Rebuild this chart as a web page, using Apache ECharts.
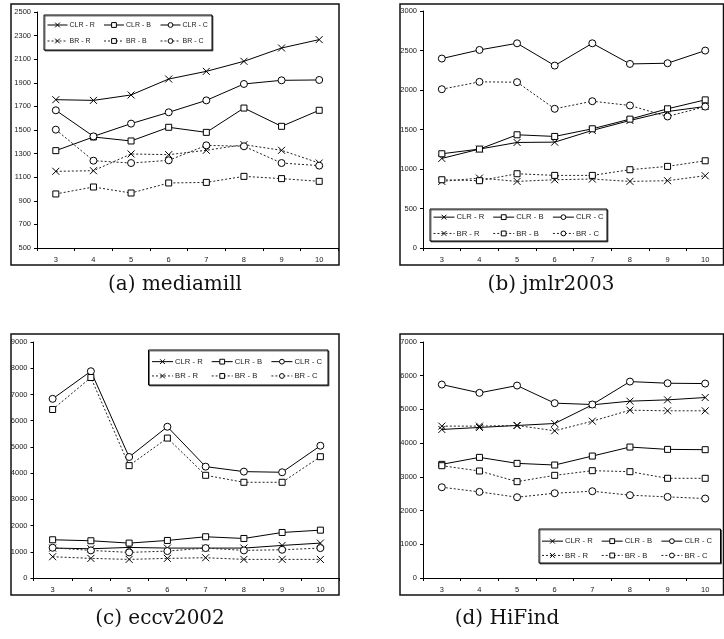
<!DOCTYPE html>
<html>
<head>
<meta charset="utf-8">
<script src="https://cdn.jsdelivr.net/npm/echarts@6/dist/echarts.min.js"></script>
<style>html,body{margin:0;padding:0;background:#fff;}#c{width:724px;height:639px;}</style>
</head>
<body>
<div id="c"></div>
<script>
// ---------- DATA ----------
const categories = ['3', '4', '5', '6', '7', '8', '9', '10'];
const seriesNames = ['CLR - R', 'CLR - B', 'CLR - C', 'BR - R', 'BR - B', 'BR - C'];
const captions = ['(a) mediamill', '(b) jmlr2003', '(c) eccv2002', '(d) HiFind'];

const yMin = [500, 0, 0, 0];
const yMax = [2500, 3000, 9000, 7000];
const yInterval = [200, 500, 1000, 1000];

// (a) mediamill
const mediamill_CLR_R = [1757, 1751, 1797, 1932, 1997, 2082, 2195, 2266];
const mediamill_CLR_B = [1325, 1441, 1407, 1523, 1480, 1686, 1531, 1667];
const mediamill_CLR_C = [1667, 1446, 1554, 1650, 1751, 1890, 1921, 1924];
const mediamill_BR_R = [1150, 1155, 1297, 1291, 1328, 1376, 1328, 1220];
const mediamill_BR_B = [958, 1017, 966, 1051, 1056, 1107, 1088, 1065];
const mediamill_BR_C = [1503, 1240, 1220, 1243, 1370, 1362, 1220, 1198];

// (b) jmlr2003
const jmlr_CLR_R = [1134, 1252, 1336, 1340, 1488, 1614, 1728, 1791];
const jmlr_CLR_B = [1193, 1252, 1433, 1412, 1509, 1631, 1762, 1875];
const jmlr_CLR_C = [2398, 2507, 2591, 2309, 2591, 2330, 2339, 2499];
const jmlr_BR_R = [843, 885, 843, 864, 873, 843, 852, 915];
const jmlr_BR_B = [864, 852, 940, 919, 919, 991, 1033, 1104];
const jmlr_BR_C = [2010, 2103, 2099, 1762, 1858, 1804, 1665, 1790];

// (c) eccv2002
const eccv_CLR_R = [1141, 1115, 1166, 1141, 1141, 1141, 1242, 1331];
const eccv_CLR_B = [1458, 1420, 1331, 1432, 1572, 1508, 1736, 1825];
const eccv_CLR_C = [6833, 7885, 4615, 5768, 4247, 4057, 4032, 5044];
const eccv_BR_R = [811, 748, 710, 748, 773, 710, 710, 710];
const eccv_BR_B = [6427, 7645, 4285, 5336, 3917, 3650, 3650, 4626];
const eccv_BR_C = [1153, 1052, 976, 1027, 1141, 1052, 1077, 1141];

// (d) HiFind
const hifind_CLR_R = [4406, 4465, 4524, 4583, 5136, 5245, 5284, 5353];
const hifind_CLR_B = [3371, 3578, 3400, 3351, 3617, 3884, 3815, 3806];
const hifind_CLR_C = [5738, 5491, 5708, 5186, 5146, 5826, 5777, 5767];
const hifind_BR_R = [4505, 4505, 4524, 4366, 4652, 4978, 4959, 4959];
const hifind_BR_B = [3331, 3174, 2858, 3045, 3183, 3154, 2957, 2957];
const hifind_BR_C = [2692, 2554, 2396, 2515, 2574, 2456, 2406, 2357];

const panelData = [
  [mediamill_CLR_R, mediamill_CLR_B, mediamill_CLR_C, mediamill_BR_R, mediamill_BR_B, mediamill_BR_C],
  [jmlr_CLR_R, jmlr_CLR_B, jmlr_CLR_C, jmlr_BR_R, jmlr_BR_B, jmlr_BR_C],
  [eccv_CLR_R, eccv_CLR_B, eccv_CLR_C, eccv_BR_R, eccv_BR_B, eccv_BR_C],
  [hifind_CLR_R, hifind_CLR_B, hifind_CLR_C, hifind_BR_R, hifind_BR_B, hifind_BR_C]
];

// ---------- LAYOUT / STYLE ----------
const grids = [
  { left: 37, top: 12, width: 301, height: 236 },
  { left: 423, top: 11, width: 305, height: 237 },
  { left: 33.5, top: 342, width: 306, height: 236 },
  { left: 423, top: 342, width: 305, height: 236 }
];
const boxes = [
  { x: 11, y: 4, w: 328, h: 261 },
  { x: 400, y: 4, w: 323.5, h: 261 },
  { x: 11, y: 334, w: 328, h: 261 },
  { x: 400, y: 334, w: 323.5, h: 261 }
];
const captionPos = [[175, 285], [551, 285], [160, 619], [507, 619]];
// legend box frames and column layout per panel
const legendBoxes = [
  { x: 44, y: 15, w: 168, h: 35, colLeft: 47, pitch: 56.5, row1: 25, rowPitch: 16, itemWidth: 20, fontSize: 7 },
  { x: 430, y: 209, w: 177, h: 32, colLeft: 433, pitch: 59.7, row1: 217, rowPitch: 16, itemWidth: 21, fontSize: 7.7 },
  { x: 148.5, y: 350, w: 179.5, h: 35, colLeft: 151.5, pitch: 59.7, row1: 361.5, rowPitch: 14, itemWidth: 21, fontSize: 7.7 },
  { x: 539, y: 529, w: 181.5, h: 34, colLeft: 541.5, pitch: 59.7, row1: 541, rowPitch: 14, itemWidth: 21, fontSize: 7.7 }
];

const X_SYMBOL = 'path://M0,0L10,10M10,0L0,10';
const symbols = [X_SYMBOL, 'rect', 'circle', X_SYMBOL, 'rect', 'circle'];
const symbolSizes = [7, 6, 7, 7, 6, 7];
const dashed = [false, false, false, true, true, true];
const FONT = 'Liberation Sans, Arial, sans-serif';

const option = {
  animation: false,
  backgroundColor: '#fff',
  grid: grids.map(g => Object.assign({ containLabel: false }, g)),
  xAxis: grids.map((g, i) => ({
    type: 'category',
    gridIndex: i,
    data: categories,
    boundaryGap: true,
    axisLine: { lineStyle: { color: '#000', width: 1 } },
    axisTick: { show: true, length: 3, lineStyle: { color: '#000' } },
    axisLabel: { fontSize: 7.5, color: '#222', fontFamily: FONT, margin: 8 },
    splitLine: { show: false }
  })),
  yAxis: grids.map((g, i) => ({
    type: 'value',
    gridIndex: i,
    min: yMin[i],
    max: yMax[i],
    interval: yInterval[i],
    axisLine: { show: true, lineStyle: { color: '#000', width: 1 } },
    axisTick: { show: true, length: 3, lineStyle: { color: '#000' } },
    axisLabel: { fontSize: 7.5, color: '#222', fontFamily: FONT, margin: 6, formatter: v => String(v) },
    splitLine: { show: false }
  })),
  legend: [],
  series: [],
  graphic: []
};

legendBoxes.forEach((lb) => {
  const itemH = 6;
  const textH = lb.fontSize;
  for (let k = 0; k < 3; k++) {
    option.legend.push({
      data: [seriesNames[k], seriesNames[k + 3]],
      orient: 'vertical',
      left: lb.colLeft + k * lb.pitch,
      top: lb.row1 - textH / 2,
      padding: 0,
      itemWidth: lb.itemWidth,
      itemHeight: itemH,
      itemGap: lb.rowPitch - textH,
      selectedMode: false,
      z: 8,
      lineStyle: { width: 1 },
      itemStyle: { borderWidth: 1 },
      textStyle: { fontSize: lb.fontSize, color: '#222', fontFamily: FONT, padding: [0, 0, 0, -3] }
    });
  }
  option.graphic.push({
    type: 'rect',
    shape: { x: lb.x, y: lb.y, width: lb.w, height: lb.h },
    style: { fill: '#fff', stroke: '#000', lineWidth: 1, shadowColor: 'rgba(0,0,0,0.55)', shadowOffsetX: 1, shadowOffsetY: 1, shadowBlur: 0 },
    z: 5,
    silent: true
  });
});

panelData.forEach((arrs, p) => {
  arrs.forEach((vals, s) => {
    option.series.push({
      type: 'line',
      name: seriesNames[s],
      xAxisIndex: p,
      yAxisIndex: p,
      data: vals,
      symbol: symbols[s],
      symbolSize: symbolSizes[s],
      showSymbol: true,
      lineStyle: { color: dashed[s] ? '#222' : '#000', width: 1, type: dashed[s] ? [2, 2] : 'solid' },
      itemStyle: { color: '#fff', borderColor: '#000', borderWidth: 1 },
      emphasis: { disabled: true },
      z: 3
    });
  });
});

boxes.forEach(b => {
  option.graphic.push({
    type: 'rect',
    shape: { x: b.x, y: b.y, width: b.w, height: b.h },
    style: { fill: 'none', stroke: '#111', lineWidth: 1.5 },
    z: 1,
    silent: true
  });
});

captions.forEach((t, i) => {
  option.graphic.push({
    type: 'text',
    x: captionPos[i][0],
    y: captionPos[i][1],
    style: {
      text: t,
      fill: '#111',
      font: '20px "DejaVu Serif", serif',
      textAlign: 'center',
      textVerticalAlign: 'middle'
    },
    silent: true
  });
});

const chart = echarts.init(document.getElementById('c'), null, { renderer: 'canvas' });
chart.setOption(option);
</script>
</body>
</html>
